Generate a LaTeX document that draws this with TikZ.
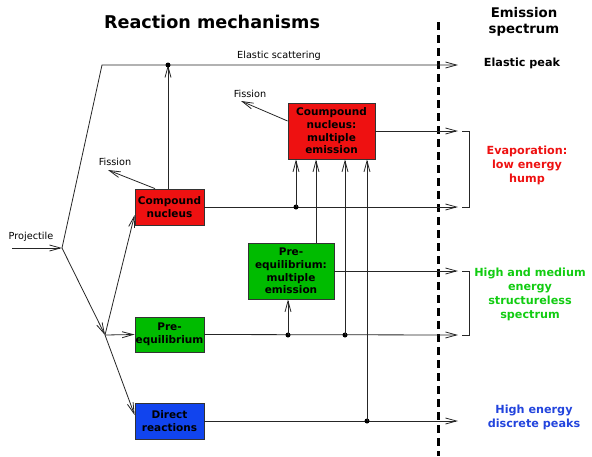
\documentclass[tikz,border=0pt]{standalone}
\usepackage{fontspec}
\setmainfont{DejaVu Sans}
\usetikzlibrary{arrows.meta}

\definecolor{cnred}{RGB}{238,17,17}
\definecolor{pegreen}{RGB}{0,187,0}
\definecolor{drblue}{RGB}{17,68,238}
\definecolor{specgreen}{RGB}{17,204,17}
\definecolor{peakblue}{RGB}{34,68,221}

\tikzset{
  mech/.style={draw=black!80, line width=0.8pt, align=center, inner sep=0pt,
    font=\fontsize{10.5}{12.7}\selectfont\bfseries},
  flow/.style={line width=0.8pt, draw=black!85, -{Straight Barb[length=11pt,width=6pt]}},
  wire/.style={line width=0.8pt, draw=black!85},
  small/.style={font=\fontsize{9.7}{11}\selectfont},
  spec/.style={align=center, font=\fontsize{11.2}{14}\selectfont\bfseries},
}

\begin{document}
\begin{tikzpicture}[x=1pt, y=-1pt]
      \useasboundingbox (0,0) rectangle (592,456);

      % Titles
      \node[font=\fontsize{17.6}{20}\selectfont\bfseries] (mechtitle) at (212,22) {Reaction mechanisms};
      \node[font=\fontsize{13.3}{16}\selectfont\bfseries, align=center] (spectitle) at (524,22) {Emission\\spectrum};

      % Separation between mechanisms and spectrum
      \draw[line width=3pt, dash pattern=on 8pt off 5pt] (438,22) -- (438,456);

      % Mechanism boxes
      \node[mech, fill=cnred, minimum width=69pt, minimum height=36pt] (cn) at (169.5,207) {Compound\\nucleus};
      \node[mech, fill=pegreen, minimum width=69pt, minimum height=35pt] (pe) at (169.5,334.5) {Pre-\\equilibrium};
      \node[mech, fill=drblue, minimum width=69pt, minimum height=36pt] (dr) at (169.5,421) {Direct\\reactions};
      \node[mech, fill=cnred, minimum width=87pt, minimum height=56pt] (cnm) at (331.5,131) {Coumpound\\nucleus:\\multiple\\emission};
      \node[mech, fill=pegreen, minimum width=86pt, minimum height=56pt] (pem) at (291,271) {Pre-\\equilibrium:\\multiple\\emission};

      % Branch points and end points
      \coordinate (proj) at (12,248);
      \coordinate (split) at (62,248);
      \coordinate (fork) at (105,335);
      \coordinate (bend) at (102,65);
      \coordinate (eldot) at (168,65);
      \coordinate (elend) at (458,65);
      \coordinate (cnend) at (458,207);
      \coordinate (cnmend) at (458,131);
      \coordinate (pemend) at (458,271);
      \coordinate (peend) at (458,335);
      \coordinate (drend) at (458,421);
      \coordinate (cndot) at (296,207);
      \coordinate (pedotA) at (288,335);
      \coordinate (pedotB) at (345,335);
      \coordinate (drdot) at (367,421);
      \coordinate (pemup) at (316,0);
      \coordinate (fisA) at (108,170);
      \coordinate (fisB) at (241,101);

      % Projectile and first splits
      \node[small] (projlabel) at (31,237) {Projectile};
      \draw[flow] (proj) -- (split);
      \draw[flow] (split) -- (bend) -- (elend);
      \node[small] (elastic) at (279,56) {Elastic scattering};
      \draw[flow] (split) -- (fork);
      \draw[flow] (fork) -- ([yshift=-8pt]cn.west);
      \draw[flow] (fork) -- (pe.west);
      \draw[flow] (fork) -- ([yshift=6pt]dr.west);

      % Compound nucleus
      \draw[flow] (cn.north -| eldot) -- (eldot);
      \fill (eldot) circle (2.5pt);
      \draw[flow] ([xshift=-14.5pt]cn.north) -- (fisA);
      \node[small] (fissionA) at (115,162) {Fission};
      \draw[flow] (cn.east) -- (cnend);
      \fill (cndot) circle (2.5pt);
      \draw[flow] (cndot) -- (cndot |- cnm.south);

      % Compound nucleus, multiple emission
      \draw[flow] ([yshift=10pt]cnm.west) -- (fisB);
      \node[small] (fissionB) at (250,94) {Fission};
      \draw[flow] (cnm.east) -- (cnmend);

      % Pre-equilibrium
      \draw[flow] (pe.east) -- (peend);
      \fill (pedotA) circle (2.5pt);
      \fill (pedotB) circle (2.5pt);
      \draw[flow] (pedotA) -- (pedotA |- pem.south);
      \draw[flow] (pedotB) -- (pedotB |- cnm.south);
      \draw[flow] (pem.north -| pemup) -- (cnm.south -| pemup);
      \draw[flow] (pem.east) -- (pemend);

      % Direct reactions
      \draw[flow] (dr.east) -- (drend);
      \fill (drdot) circle (2.5pt);
      \draw[flow] (drdot) -- (drdot |- cnm.south);

      % Brackets grouping the spectrum parts
      \draw[wire] (462,131) -- (469,131) -- (469,207) -- (462,207);
      \draw[wire] (462,271) -- (469,271) -- (469,335) -- (462,335);

      % Spectrum labels
      \node[spec] (elpeak) at (522,63) {Elastic peak};
      \node[spec, text=cnred] (evap) at (527,165) {Evaporation:\\low energy\\hump};
      \node[spec, text=specgreen] (hmspec) at (530,294) {High and medium\\energy\\structureless\\spectrum};
      \node[spec, text=peakblue] (hepeak) at (534,417) {High energy\\discrete peaks};
\end{tikzpicture}
\end{document}
